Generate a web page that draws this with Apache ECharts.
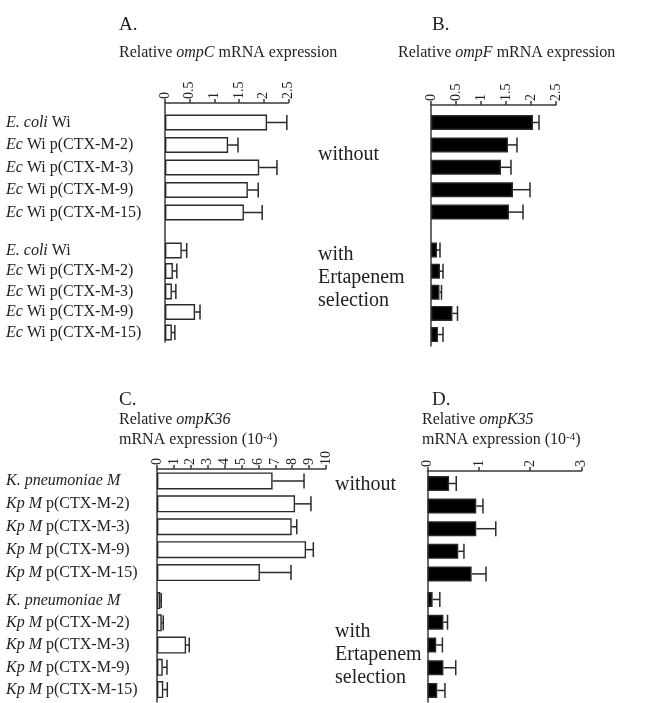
<!DOCTYPE html>
<html>
<head>
<meta charset="utf-8">
<script src="https://cdn.jsdelivr.net/npm/echarts@6/dist/echarts.min.js"></script>
<style>html,body{margin:0;padding:0;background:#fff}#c{width:654px;height:703px}</style>
</head>
<body>
<div id="c"></div>
<script>
// ---- Data ----
const ecLabels = ['{i|E. coli} Wi', '{i|Ec} Wi p(CTX-M-2)', '{i|Ec} Wi p(CTX-M-3)', '{i|Ec} Wi p(CTX-M-9)', '{i|Ec} Wi p(CTX-M-15)'];
const kpLabels = ['{i|K. pneumoniae M}', '{i|Kp M} p(CTX-M-2)', '{i|Kp M} p(CTX-M-3)', '{i|Kp M} p(CTX-M-9)', '{i|Kp M} p(CTX-M-15)'];

const ompC_without    = [2.07, 1.28, 1.91, 1.68, 1.60];
const ompC_without_sd = [0.40, 0.20, 0.36, 0.21, 0.37];
const ompC_with       = [0.34, 0.16, 0.14, 0.61, 0.14];
const ompC_with_sd    = [0.10, 0.08, 0.08, 0.10, 0.06];

const ompF_without    = [2.04, 1.54, 1.40, 1.64, 1.56];
const ompF_without_sd = [0.12, 0.18, 0.20, 0.34, 0.28];
const ompF_with       = [0.12, 0.18, 0.17, 0.43, 0.14];
const ompF_with_sd    = [0.06, 0.06, 0.04, 0.10, 0.10];

const ompK36_without    = [6.84, 8.17, 7.97, 8.82, 6.09];
const ompK36_without_sd = [1.86, 0.94, 0.30, 0.43, 1.84];
const ompK36_with       = [0.20, 0.28, 1.72, 0.34, 0.37];
const ompK36_with_sd    = [0.05, 0.09, 0.19, 0.25, 0.24];

const ompK35_without    = [0.42, 0.95, 0.95, 0.60, 0.86];
const ompK35_without_sd = [0.14, 0.13, 0.38, 0.11, 0.28];
const ompK35_with       = [0.10, 0.31, 0.17, 0.31, 0.19];
const ompK35_with_sd    = [0.14, 0.08, 0.12, 0.24, 0.15];

const ticksAB = {max: 2.5, interval: 0.5};
const ticksC  = {max: 10, interval: 1};
const ticksD  = {max: 3, interval: 1};

// ---- Layout / style ----
const FONT = '"Liberation Serif", "Times New Roman", serif';
const INK = '#222';
const AX = '#3a3a3a';

const panels = [
  {left:165, width:123.3, top:103, bottom:342, scale:ticksAB, fill:'#ffffff', labels:ecLabels, showLabels:true, barW:16,
   groups:[{top:111.25, h:112.5, v:ompC_without, sd:ompC_without_sd},{top:240.25, h:102.5, v:ompC_with, sd:ompC_with_sd}]},
  {left:431, width:125, top:105, bottom:346, scale:ticksAB, fill:'#000000', labels:ecLabels, showLabels:false, barW:15,
   groups:[{top:111.3, h:112, v:ompF_without, sd:ompF_without_sd},{top:239.5, h:105.6, v:ompF_with, sd:ompF_with_sd}]},
  {left:157, width:169, top:469, bottom:702, scale:ticksC, fill:'#ffffff', labels:kpLabels, showLabels:true, barW:17,
   groups:[{top:469.5, h:114.5, v:ompK36_without, sd:ompK36_without_sd},{top:589.4, h:111.3, v:ompK36_with, sd:ompK36_with_sd}]},
  {left:427.5, width:154, top:471, bottom:702, scale:ticksD, fill:'#000000', labels:kpLabels, showLabels:false, barW:15,
   groups:[{top:472.2, h:113, v:ompK35_without, sd:ompK35_without_sd},{top:588.1, h:113.75, v:ompK35_with, sd:ompK35_with_sd}]}
];

const grids = [], xAxes = [], yAxes = [], series = [];
const lineStyle = {color: AX, width: 1.5};

panels.forEach(p => {
  const o = grids.length;
  grids.push({left: p.left, top: p.top, width: p.width, height: p.bottom - p.top});
  xAxes.push({gridIndex:o, type:'value', position:'top', min:0, max:p.scale.max, interval:p.scale.interval,
    axisLine:{show:true, onZero:false, lineStyle}, axisTick:{show:true, length:4, lineStyle},
    axisLabel:{rotate:-90, margin:4, fontFamily:FONT, fontSize:14, color:INK}, splitLine:{show:false}});
  yAxes.push({gridIndex:o, type:'value', min:0, max:1, axisLine:{show:true, onZero:false, lineStyle},
    axisTick:{show:false}, axisLabel:{show:false}, splitLine:{show:false}});
  p.groups.forEach(g => {
    const gi = grids.length;
    grids.push({left: p.left, top: g.top, width: p.width, height: g.h});
    xAxes.push({gridIndex:gi, type:'value', min:0, max:p.scale.max, show:false});
    yAxes.push({gridIndex:gi, type:'category', inverse:true, data:p.labels,
      axisLine:{show:false}, axisTick:{show:false}, splitLine:{show:false},
      axisLabel:{show:p.showLabels, interval:0, align:'left', margin:p.left - 6, fontFamily:FONT, fontSize:16, color:INK,
        formatter: v => v, rich:{i:{fontStyle:'italic', fontFamily:FONT, fontSize:16, color:INK}}}});
    series.push({type:'bar', xAxisIndex:gi, yAxisIndex:gi, data:g.v, barWidth:p.barW, z:2,
      itemStyle:{color:p.fill, borderColor:'#2a2a2a', borderWidth:1.4}});
    series.push({type:'custom', coordinateSystem:'cartesian2d', xAxisIndex:gi, yAxisIndex:gi, z:3,
      data: g.v.map((v, i) => [v, v + g.sd[i], i]),
      encode:{x:[0,1], y:2},
      renderItem: (params, api) => {
        const a = api.coord([api.value(0), api.value(2)]);
        const b = api.coord([api.value(1), api.value(2)]);
        const h = 7.5;
        const st = {stroke:'#2a2a2a', lineWidth:1.5};
        return {type:'group', children:[
          {type:'line', shape:{x1:a[0], y1:a[1], x2:b[0], y2:b[1]}, style:st},
          {type:'line', shape:{x1:b[0], y1:b[1]-h, x2:b[0], y2:b[1]+h}, style:st}
        ]};
      }});
  });
});

function txt(x, y, text, size, rich) {
  return {type:'text', x, y, silent:true, style:{text, fill:INK, font: size + 'px ' + FONT, verticalAlign:'middle', align:'left',
    rich: Object.assign({i:{fontStyle:'italic', fontFamily:FONT, fontSize:size, fill:INK},
                         n:{fontFamily:FONT, fontSize:size, fill:INK},
                         s:{fontFamily:FONT, fontSize:11, fill:INK, verticalAlign:'top', padding:[0,0,6,0]}}, rich||{})}};
}

const graphics = [
  txt(119, 25, 'A.', 19),
  txt(119, 53, '{n|Relative }{i|ompC}{n| mRNA expression}', 16),
  txt(432, 25, 'B.', 19),
  txt(398, 53, '{n|Relative }{i|ompF}{n| mRNA expression}', 16),
  txt(318, 155, 'without', 20),
  txt(318, 255, 'with', 20),
  txt(318, 278, 'Ertapenem', 20),
  txt(318, 301, 'selection', 20),
  txt(119, 400, 'C.', 19),
  txt(119, 420, '{n|Relative }{i|ompK36}', 16),
  txt(119, 440, '{n|mRNA expression (10}{s|-4}{n|)}', 16),
  txt(432, 400, 'D.', 19),
  txt(422, 420, '{n|Relative }{i|ompK35}', 16),
  txt(422, 440, '{n|mRNA expression (10}{s|-4}{n|)}', 16),
  txt(335, 485, 'without', 20),
  txt(335, 632, 'with', 20),
  txt(335, 655, 'Ertapenem', 20),
  txt(335, 678, 'selection', 20)
];

const chart = echarts.init(document.getElementById('c'), null, {renderer:'canvas'});
chart.setOption({
  animation:false,
  backgroundColor:'#ffffff',
  grid:grids, xAxis:xAxes, yAxis:yAxes, series,
  graphic:graphics
});
</script>
</body>
</html>
